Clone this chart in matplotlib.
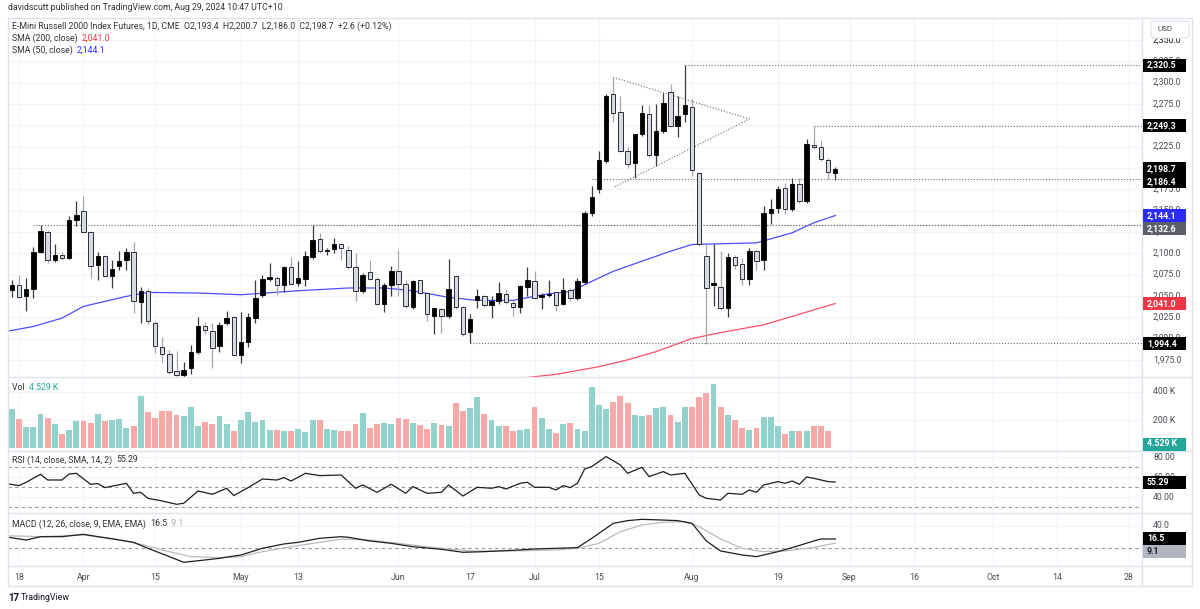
import numpy as np
import pandas as pd
import matplotlib
matplotlib.use("Agg")
import matplotlib.pyplot as plt
from matplotlib.transforms import blended_transform_factory
from matplotlib.patches import FancyBboxPatch, Rectangle
from matplotlib.lines import Line2D

plt.rcParams['font.family'] = ['Roboto', 'DejaVu Sans']

W, H = 1200, 609

# ---------------- data ----------------
first_day = "2024-03-14"
last_axis_day = "2024-11-29"
exchange_holidays = ["2024-03-29", "2024-05-27", "2024-06-19", "2024-07-04", "2024-09-02"]

opens = [2080.0, 2056.9, 2063.1, 2049.4, 2058.4, 2101.2, 2124.7, 2091.8, 2097.6, 2094.5,
         2138.8, 2149.4, 2124.7, 2085.9, 2096.5, 2073.7, 2084.7, 2091.8, 2101.6, 2042.7,
         2056.1, 2018.0, 1990.6, 1982.4, 1962.4, 1957.2, 1965.1, 1983.9, 2014.9, 2009.0,
         1991.8, 2018.0, 2024.7, 1980.8, 1996.5, 2023.9, 2051.4, 2069.3, 2070.9, 2063.1,
         2084.0, 2065.1, 2070.2, 2095.3, 2116.9, 2103.0, 2105.1, 2111.0, 2104.3, 2083.5,
         2055.3, 2077.6, 2070.2, 2040.4, 2063.1, 2079.6, 2064.3, 2036.5, 2068.2, 2053.3,
         2025.9, 2034.9, 2025.9, 2072.9, 2036.5, 2008.2, 2045.5, 2049.4, 2038.8, 2043.5,
         2052.5, 2041.6, 2036.5, 2060.0, 2067.1, 2048.2, 2051.3, 2054.1, 2040.4, 2057.2,
         2047.4, 2066.3, 2146.6, 2174.8, 2208.2, 2286.7, 2265.1, 2220.0, 2206.2, 2239.6,
         2263.1, 2214.9, 2243.5, 2288.6, 2249.4, 2263.1, 2271.7, 2194.5, 2096.5, 2063.1,
         2060.4, 2035.7, 2095.7, 2087.8, 2069.8, 2102.3, 2091.8, 2146.6, 2153.3, 2176.8,
         2151.3, 2180.7, 2161.1, 2226.6, 2224.7, 2209.4, 2193.4]
highs = [2096.5, 2068.2, 2074.9, 2071.0, 2107.4, 2132.6, 2126.7, 2111.0, 2101.0, 2143.5,
         2161.2, 2167.0, 2125.9, 2101.6, 2098.0, 2092.5, 2102.3, 2106.3, 2112.9, 2060.0,
         2059.2, 2020.0, 2001.2, 1986.7, 1985.5, 1972.9, 1992.5, 2024.7, 2019.2, 2018.0,
         2019.2, 2031.8, 2025.9, 2030.6, 2030.0, 2068.0, 2075.0, 2088.6, 2073.0, 2084.7,
         2095.3, 2090.6, 2102.3, 2132.6, 2123.9, 2106.0, 2118.0, 2112.0, 2108.2, 2100.4,
         2077.0, 2092.5, 2072.0, 2065.0, 2084.7, 2104.3, 2068.2, 2069.0, 2069.0, 2055.0,
         2036.0, 2036.0, 2093.7, 2074.0, 2038.0, 2028.6, 2058.4, 2051.0, 2049.4, 2066.3,
         2058.4, 2045.5, 2062.4, 2083.5, 2078.8, 2053.0, 2068.2, 2055.0, 2071.0, 2059.0,
         2071.0, 2149.0, 2179.0, 2220.0, 2286.7, 2306.3, 2284.7, 2225.0, 2240.0, 2274.0,
         2274.0, 2274.9, 2287.4, 2298.4, 2283.9, 2320.5, 2280.7, 2195.0, 2110.2, 2110.2,
         2102.3, 2100.4, 2098.4, 2094.5, 2106.2, 2104.0, 2155.3, 2163.1, 2178.8, 2182.7,
         2188.6, 2188.6, 2233.7, 2249.3, 2232.5, 2212.0, 2200.7]
lows = [2057.2, 2048.6, 2047.0, 2032.5, 2047.4, 2100.0, 2089.0, 2089.5, 2092.0, 2093.0,
        2131.8, 2124.0, 2071.0, 2069.0, 2072.0, 2059.2, 2080.8, 2080.8, 2029.8, 2018.0,
        2016.9, 1982.7, 1971.0, 1958.0, 1953.3, 1953.3, 1958.0, 1982.0, 2005.0, 1965.1,
        1983.9, 2016.0, 1979.0, 1971.0, 1990.6, 2018.0, 2049.0, 2067.0, 2051.4, 2054.5,
        2063.0, 2061.0, 2061.0, 2093.7, 2100.0, 2097.6, 2100.4, 2092.5, 2082.0, 2044.3,
        2053.0, 2068.0, 2039.0, 2031.0, 2049.4, 2049.4, 2036.0, 2035.0, 2052.0, 2020.0,
        2005.0, 2006.0, 2024.0, 2035.0, 2003.0, 1994.4, 2035.7, 2037.0, 2023.9, 2041.0,
        2041.0, 2025.9, 2029.8, 2049.4, 2046.0, 2034.9, 2049.0, 2032.5, 2038.8, 2044.0,
        2045.0, 2064.0, 2143.0, 2170.9, 2206.0, 2253.3, 2218.0, 2200.0, 2188.6, 2237.0,
        2213.0, 2202.3, 2241.0, 2248.0, 2236.4, 2253.3, 2190.0, 2109.0, 1993.0, 2037.6,
        2034.0, 2024.7, 2082.0, 2063.1, 2063.1, 2080.8, 2080.8, 2133.7, 2147.4, 2145.5,
        2149.0, 2159.0, 2159.0, 2222.0, 2208.0, 2186.4, 2186.0]
closes = [2060.0, 2062.4, 2048.2, 2058.4, 2101.2, 2125.9, 2091.8, 2097.6, 2094.5, 2138.8,
          2144.3, 2125.1, 2085.5, 2096.5, 2073.7, 2082.0, 2090.6, 2101.2, 2043.5, 2056.1,
          2020.0, 1991.4, 1981.6, 1960.4, 1957.2, 1963.1, 1983.9, 2014.1, 2009.4, 1988.6,
          2015.3, 2023.9, 1980.8, 1996.5, 2024.7, 2047.4, 2070.2, 2071.7, 2063.0, 2083.5,
          2064.3, 2071.0, 2096.5, 2114.9, 2102.3, 2103.5, 2110.2, 2105.5, 2083.5, 2055.3,
          2074.9, 2070.2, 2040.4, 2063.1, 2079.6, 2064.3, 2037.6, 2067.8, 2053.3, 2029.0,
          2035.7, 2025.9, 2058.4, 2036.5, 2005.1, 2023.1, 2049.4, 2038.8, 2043.5, 2053.3,
          2042.7, 2036.5, 2061.1, 2068.2, 2047.4, 2051.3, 2052.5, 2038.8, 2057.2, 2047.4,
          2067.1, 2147.4, 2166.2, 2209.4, 2284.7, 2264.3, 2220.0, 2204.3, 2239.6, 2264.3,
          2214.9, 2243.5, 2276.0, 2249.4, 2261.1, 2273.5, 2197.2, 2110.2, 2059.2, 2065.1,
          2035.7, 2095.7, 2086.7, 2069.8, 2102.3, 2090.6, 2146.6, 2152.1, 2175.7, 2151.3,
          2180.7, 2161.1, 2227.8, 2224.7, 2210.9, 2195.3, 2198.7]
volume_k = [212, 279, 207, 155, 155, 241, 212, 172, 105, 134,
            193, 193, 179, 241, 193, 202, 207, 145, 160, 374,
            255, 217, 264, 264, 236, 226, 291, 160, 190, 172,
            231, 172, 124, 198, 260, 190, 202, 134, 134, 122,
            122, 141, 117, 198, 198, 136, 131, 122, 122, 172,
            250, 145, 174, 179, 174, 217, 207, 179, 164, 136,
            179, 164, 160, 321, 264, 283, 364, 245, 198, 157,
            157, 121, 131, 140, 290, 217, 140, 110, 174, 178,
            136, 121, 436, 307, 279, 329, 371, 321, 236, 231,
            240, 283, 290, 236, 188, 295, 295, 364, 393, 457,
            290, 240, 198, 145, 133, 145, 219, 219, 160, 105,
            121, 126, 126, 160, 160, 121, 4.529]

# moving averages read at sample bars (bar number counted from first_day)
sma50_bar = [0, 4, 8, 11, 13, 17, 20, 27, 33, 41, 48, 53, 57, 62, 66, 71, 76, 79, 82, 85, 89, 93, 96, 100, 105, 110, 113, 116]
sma50_val = [2008.0, 2014.1, 2023.9, 2037.6, 2041.6, 2049.4, 2054.0, 2053.3, 2051.3, 2056.0, 2059.2, 2059.2, 2056.0,
             2048.2, 2044.7, 2044.7, 2052.5, 2055.0, 2067.0, 2078.8, 2090.6, 2102.3, 2110.2, 2111.0, 2112.1, 2123.9,
             2135.6, 2144.1]
sma200_bar = [71, 77, 83, 87, 91, 96, 100, 106, 110, 116]
sma200_val = [1952.5, 1958.0, 1967.0, 1975.0, 1984.7, 2000.0, 2007.0, 2016.0, 2026.0, 2041.0]

rsi_bar = [0, 2, 3, 5, 6, 8, 9, 10, 12, 13, 14, 17, 18, 19, 20, 22, 24, 25, 27, 29, 31, 32, 34, 36, 38, 39, 40,
           42, 44, 47, 49, 50, 52, 54, 56, 57, 59, 61, 62, 64, 66, 68, 69, 70, 72, 73, 74, 76, 77, 78, 79, 80,
           81, 82, 84, 86, 87, 89, 90, 92, 93, 95, 97, 98, 100, 101, 103, 104, 105, 106, 108, 109, 110, 111,
           112, 113, 115, 116]
rsi_val = [54.0, 51.7, 55.0, 63.0, 57.3, 57.3, 63.3, 64.0, 53.0, 53.7, 49.7, 54.0, 44.0, 45.0, 39.0, 36.3, 33.0,
           34.0, 46.3, 43.0, 49.0, 41.7, 49.7, 58.3, 57.3, 59.7, 56.3, 64.0, 61.7, 62.3, 49.0, 52.3, 45.0, 53.0,
           44.0, 50.7, 44.0, 45.0, 52.3, 41.3, 50.0, 49.0, 50.7, 48.3, 54.0, 55.0, 50.0, 50.0, 47.3, 51.7, 49.7,
           54.0, 68.3, 70.7, 80.7, 72.3, 64.0, 70.0, 60.7, 65.7, 62.3, 64.0, 42.3, 39.0, 37.3, 44.0, 43.0, 47.3,
           45.0, 52.3, 55.7, 54.0, 56.3, 53.0, 60.3, 59.0, 55.7, 55.29]

macd_bar = [0, 3, 5, 8, 11, 13, 16, 18, 20, 23, 25, 28, 30, 33, 36, 39, 41, 44, 47, 48, 51, 54, 57, 61, 64, 67,
            71, 74, 77, 80, 82, 85, 87, 89, 92, 94, 96, 98, 100, 103, 105, 108, 110, 113, 114, 116]
macd_val = [20.6, 14.7, 20.6, 20.6, 24.8, 20.6, 14.7, 10.6, 0.0, -14.7, -24.8, -20.6, -17.7, -11.8, 0.0, 7.7,
            10.6, 17.7, 20.6, 19.5, 13.0, 8.8, 2.9, -1.8, -7.0, -5.9, -3.5, -1.2, 0.0, 1.2, 17.7, 44.2, 49.0,
            51.3, 50.0, 49.0, 44.2, 13.0, -4.7, -11.8, -14.7, -5.9, 1.2, 13.0, 16.5, 16.5]
signal_bar = [0, 5, 11, 15, 19, 23, 26, 30, 33, 36, 40, 44, 47, 51, 55, 60, 65, 71, 77, 80, 83, 86, 89, 92, 95,
              97, 100, 103, 106, 109, 113, 116]
signal_val = [22.4, 20.6, 23.6, 17.7, 7.0, -5.9, -14.7, -16.5, -14.7, -5.9, 2.9, 10.6, 16.5, 14.7, 8.8, 1.2,
              -4.7, -4.7, -2.9, 0.0, 8.8, 29.5, 41.3, 46.0, 47.2, 38.3, 16.5, 0.0, -5.9, -4.7, 1.8, 9.1]

tick_dates = ["2024-03-18", "2024-04-01", "2024-04-15", "2024-05-01", "2024-05-13", "2024-06-03",
              "2024-06-17", "2024-07-01", "2024-07-15", "2024-08-01", "2024-08-19", "2024-09-03",
              "2024-09-16", "2024-10-01", "2024-10-14", "2024-10-28"]
tick_labels = ["18", "Apr", "15", "May", "13", "Jun", "17", "Jul", "15", "Aug", "19", "Sep", "16", "Oct", "14", "28"]

# user drawings: horizontal rays (start date, price) and a triangle (dates, prices)
ray_dates = ["2024-03-20", "2024-05-15", "2024-06-17", "2024-07-12", "2024-07-31", "2024-08-26"]
ray_prices = [2132.6, 2132.6, 1994.4, 2186.4, 2320.5, 2249.3]
tri_dates = ["2024-07-17", "2024-08-13", "2024-07-17"]
tri_prices = [2306.2, 2257.3, 2176.8]

# ---------------- calendar ----------------
days = pd.bdate_range(first_day, last_axis_day)
days = days[~days.isin(pd.to_datetime(exchange_holidays))]
bar_of = {d.strftime("%Y-%m-%d"): i for i, d in enumerate(days)}
n = len(closes)
bars = np.arange(n)
o = np.array(opens); h = np.array(highs); l = np.array(lows); c = np.array(closes)
up = c >= o

# ---------------- figure ----------------
fig = plt.figure(figsize=(W / 100, H / 100), dpi=100)
fig.patch.set_facecolor("white")

def px_axes(x0, y0, x1, y1):
    return fig.add_axes([x0 / W, 1 - y1 / H, (x1 - x0) / W, (y1 - y0) / H])

PL, PR = 8, 1142
XMIN, XMAX = 0.46, 158.85
ax = px_axes(PL, 18, PR, 377)
axv = px_axes(PL, 377, PR, 451)
axr = px_axes(PL, 451, PR, 513)
axm = px_axes(PL, 513, PR, 566)

GRID = "#f0f3fa"
for a in (ax, axv, axr, axm):
    a.set_xlim(XMIN, XMAX)
    a.set_xticks([]); a.set_yticks([])
    for s in a.spines.values():
        s.set_visible(False)
    a.patch.set_alpha(0)
    for d in tick_dates:
        a.axvline(bar_of[d], color=GRID, lw=0.8, zorder=0)

ax.set_ylim(1954.9, 2375.6)
axv.set_ylim(-17.7, 505)
axr.set_ylim(24.3, 86.3)
axm.set_ylim(-31.3, 62.5)

price_ticks = np.arange(1975, 2351, 25)
for p in price_ticks:
    ax.axhline(p, color=GRID, lw=0.8, zorder=0)
for v in (200, 400):
    axv.axhline(v, color=GRID, lw=0.8, zorder=0)
for v in (40, 60, 80):
    axr.axhline(v, color=GRID, lw=0.8, zorder=0)
axm.axhline(40, color=GRID, lw=0.8, zorder=0)

# candles
wick_up, wick_dn = "#3a3a3a", "#a3a6ad"
ax.vlines(bars[up], l[up], h[up], color=wick_up, lw=0.9, zorder=2)
ax.vlines(bars[~up], l[~up], h[~up], color=wick_dn, lw=0.9, zorder=2)
body_lo = np.minimum(o, c); body_h = np.maximum(np.abs(c - o), 0.6)
ax.bar(bars[up], body_h[up], bottom=body_lo[up], width=0.62, color="#000000",
       edgecolor="#000000", lw=0.6, zorder=3)
ax.bar(bars[~up], body_h[~up], bottom=body_lo[~up], width=0.62, color="#d8dbe1",
       edgecolor="#2a2e39", lw=0.7, zorder=3)

# moving averages
ax.plot(sma50_bar, sma50_val, color="#4d4dff", lw=0.9, zorder=1)
ax.plot(sma200_bar, sma200_val, color="#ff5065", lw=0.9, zorder=1)

# drawings
dot = (0, (1, 1.6))
for d, p in zip(ray_dates, ray_prices):
    ax.plot([bar_of[d], XMAX], [p, p], color="#6b6e78", lw=0.8, ls=dot, zorder=1.5)
tx = [bar_of[d] for d in tri_dates]
ax.plot([tx[0], tx[1], tx[2]], [tri_prices[0], tri_prices[1], tri_prices[2]],
        color="#6b6e78", lw=0.8, ls=dot, zorder=1.5)

# volume
vol = np.array(volume_k)
axv.bar(bars, vol, width=0.82, color=np.where(up, "#92d2cc", "#f7a9a7"), zorder=2)

# RSI
dash = (0, (3, 3))
for v in (70, 50, 30):
    axr.axhline(v, color="#9598a1", lw=0.8, ls=dash, zorder=1)
axr.plot(rsi_bar, rsi_val, color="#1e1e1e", lw=0.9, zorder=3)

# MACD
axm.axhline(0, color="#9598a1", lw=0.8, ls=dash, zorder=1)
axm.plot(signal_bar, signal_val, color="#b8bbc2", lw=0.9, zorder=2)
axm.plot(macd_bar, macd_val, color="#1e1e1e", lw=0.9, zorder=3)

# ---------------- frame & separators ----------------
BORDER = "#e0e3eb"
fig.add_artist(Rectangle((PL / W, 1 - 586 / H), (1192 - PL) / W, (586 - 18) / H,
                         transform=fig.transFigure, fill=False, ec=BORDER, lw=1.0))
for yy in (377, 451, 513, 566):
    fig.add_artist(Line2D([PL / W, 1192 / W], [1 - yy / H] * 2, transform=fig.transFigure, color=BORDER, lw=1.0))
fig.add_artist(Line2D([PR / W] * 2, [1 - 18 / H, 1 - 586 / H], transform=fig.transFigure, color=BORDER, lw=1.0))

FS = 6.3
TXT = "#333333"
AXT = "#4a4d55"

def ypx(a, val):
    return H - a.transData.transform((0, val))[1]

def axis_text(ypix, s, color=AXT, z=5):
    fig.text(1153 / W, 1 - ypix / H, s, fontsize=FS, color=color, va="center", ha="left", zorder=z)

for p in price_ticks:
    axis_text(ypx(ax, p), f"{p:,.1f}")
axis_text(ypx(ax, 2350), "2,350.0")
for v, s in ((200, "200 K"), (400, "400 K")):
    axis_text(ypx(axv, v), s)
for v in (40, 60, 80):
    axis_text(ypx(axr, v), f"{v:.2f}")
for v in (0, 40):
    axis_text(ypx(axm, v), f"{v:.1f}")

def tag(ypix, s, fc, tc="white"):
    fig.add_artist(Rectangle((1143 / W, 1 - (ypix + 6.5) / H), 43 / W, 13 / H,
                             transform=fig.transFigure, fc=fc, ec="none", zorder=8))
    fig.text(1147 / W, 1 - ypix / H, s, fontsize=FS, color=tc, va="center", ha="left",
             zorder=9, fontweight="bold")

def stacked(items, gap=13.0):
    items = sorted(items, key=lambda t: t[0])
    out = []
    last = -1e9
    for y, s, fc, tc in items:
        y = max(y, last + gap)
        out.append((y, s, fc, tc))
        last = y
    for y, s, fc, tc in out:
        tag(y, s, fc, tc)

stacked([(ypx(ax, 2320.5), "2,320.5", "#000000", "white")])
stacked([(ypx(ax, 2249.3), "2,249.3", "#000000", "white")])
stacked([(ypx(ax, 2198.7), "2,198.7", "#000000", "white"),
         (ypx(ax, 2186.4), "2,186.4", "#000000", "white")])
stacked([(ypx(ax, 2144.1), "2,144.1", "#2b2bff", "white"),
         (ypx(ax, 2132.6), "2,132.6", "#5d606b", "white")])
stacked([(ypx(ax, 2041.0), "2,041.0", "#f23645", "white")])
stacked([(ypx(ax, 1994.4), "1,994.4", "#000000", "white")])
tag(444, "4.529 K", "#26a69a")
stacked([(ypx(axr, 55.29), "55.29", "#000000", "white")])
stacked([(ypx(axm, 16.5), "16.5", "#000000", "white"),
         (ypx(axm, 9.1) + 4, "9.1", "#b2b5be", "#131722")])

# USD button
fig.add_artist(FancyBboxPatch((1151 / W, 1 - 38 / H), 38 / W, 17 / H, transform=fig.transFigure,
                              boxstyle="round,pad=0,rounding_size=0.003", fc="white", ec=BORDER, lw=0.8, zorder=10))
fig.text(1157 / W, 1 - 29 / H, "USD", fontsize=5.8, color="#4a4d55", va="center", ha="left", zorder=11)

# x axis labels
tr = blended_transform_factory(axm.transData, fig.transFigure)
for d, s in zip(tick_dates, tick_labels):
    axm.text(bar_of[d], 1 - 577 / H, s, transform=tr, fontsize=FS, color=AXT, ha="center", va="center", clip_on=False)

# ---------------- legends / headers ----------------
fig.canvas.draw()
renderer = fig.canvas.get_renderer()

def seq_text(x_px, y_px, parts, fs=FS, weight="normal"):
    x = x_px
    for s, col in parts:
        t = fig.text(x / W, 1 - y_px / H, s, fontsize=fs, color=col, va="center", ha="left", zorder=12,
                     fontweight=weight)
        bb = t.get_window_extent(renderer=renderer)
        x += bb.width

seq_text(8, 8, [("davidscutt published on TradingView.com, Aug 29, 2024 10:47 UTC+10", "#333333")])
seq_text(12, 26, [("E-Mini Russell 2000 Index Futures, 1D, CME  O2,193.4  H2,200.7  L2,186.0  C2,198.7  +2.6 (+0.12%)", TXT)])
seq_text(12, 38, [("SMA (200, close)  ", TXT), ("2,041.0", "#f23645")])
seq_text(12, 50, [("SMA (50, close)  ", TXT), ("2,144.1", "#2b2bff")])
seq_text(12, 387, [("Vol  ", TXT), ("4.529 K", "#26a69a")])
seq_text(12, 460, [("RSI (14, close, SMA, 14, 2)  ", TXT), ("55.29", TXT)])
seq_text(12, 524, [("MACD (12, 26, close, 9, EMA, EMA)  ", TXT), ("16.5", TXT), ("  9.1", "#a9acb4")])
seq_text(8, 598, [("17", "#131722")], fs=7, weight="bold")
seq_text(21, 598, [("TradingView", "#131722")], fs=6.4)

fig.savefig("out.png", dpi=100, facecolor="white")
